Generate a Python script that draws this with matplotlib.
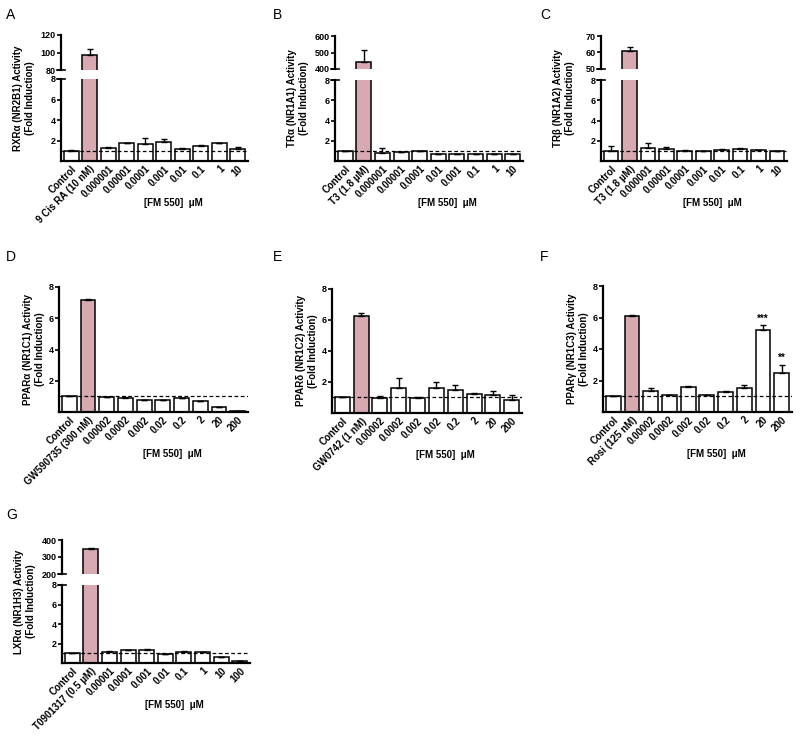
import matplotlib
matplotlib.use("Agg")
import matplotlib.pyplot as plt

plt.rcParams["font.family"] = ["Liberation Sans", "DejaVu Sans"]
plt.rcParams["font.weight"] = "bold"

PINK = "#d9a9b1"
W, H = 800, 739

# ---- data ----
A_labels = ["Control", "9 Cis RA (10 nM)", "0.000001", "0.00001", "0.0001",
            "0.001", "0.01", "0.1", "1", "10"]
A_vals = [1.0, 97, 1.3, 1.75, 1.7, 1.85, 1.2, 1.5, 1.75, 1.2]
A_err = [0.05, 7, 0.05, 0.05, 0.5, 0.25, 0.05, 0.05, 0.03, 0.2]

B_labels = ["Control", "T3 (1.8 \u00b5M)", "0.000001", "0.00001", "0.0001",
            "0.01", "0.001", "0.1", "1", "10"]
B_vals = [1.0, 440, 0.75, 0.9, 0.95, 0.65, 0.65, 0.65, 0.65, 0.65]
B_err = [0, 75, 0.5, 0, 0.05, 0.03, 0.05, 0.03, 0.03, 0.03]

C_labels = ["Control", "T3 (1.8 \u00b5M)", "0.000001", "0.00001", "0.0001",
            "0.001", "0.01", "0.1", "1", "10"]
C_vals = [1.0, 61, 1.3, 1.2, 1.0, 0.95, 1.1, 1.2, 1.05, 0.95]
C_err = [0.45, 2.5, 0.45, 0.15, 0.05, 0.03, 0.05, 0.1, 0.05, 0.03]

D_labels = ["Control", "GW590735 (300 nM)", "0.00002", "0.0002", "0.002",
            "0.02", "0.2", "2", "20", "200"]
D_vals = [1.0, 7.15, 0.95, 0.9, 0.8, 0.8, 0.9, 0.7, 0.35, 0.06]
D_err = [0, 0.05, 0.03, 0.03, 0, 0, 0.02, 0.03, 0, 0]

E_labels = ["Control", "GW0742 (1 nM)", "0.00002", "0.0002", "0.002",
            "0.02", "0.2", "2", "20", "200"]
E_vals = [1.0, 6.25, 0.97, 1.62, 0.95, 1.62, 1.48, 1.22, 1.18, 0.82]
E_err = [0, 0.2, 0.15, 0.62, 0.1, 0.35, 0.35, 0.1, 0.25, 0.35]

F_labels = ["Control", "Rosi (125 nM)", "0.00002", "0.0002", "0.002",
            "0.02", "0.2", "2", "20", "200"]
F_vals = [1.0, 6.1, 1.35, 1.05, 1.6, 1.08, 1.28, 1.5, 5.2, 2.5]
F_err = [0, 0.05, 0.15, 0.05, 0.03, 0.03, 0.08, 0.2, 0.3, 0.5]
F_stars = {8: "***", 9: "**"}

G_labels = ["Control", "T0901317 (0.5 \u00b5M)", "0.00001", "0.0001", "0.001",
            "0.01", "0.1", "1", "10", "100"]
G_vals = [1.0, 348, 1.15, 1.3, 1.35, 0.95, 1.15, 1.1, 0.6, 0.2]
G_err = [0, 5, 0.05, 0.05, 0.1, 0, 0.05, 0.05, 0.05, 0.05]

fig = plt.figure(figsize=(W / 100, H / 100), dpi=100)


def box(left, top, right, bottom):
    return [left / W, 1 - bottom / H, (right - left) / W, (bottom - top) / H]


def draw_bars(ax, vals, errs):
    x = list(range(len(vals)))
    colors = ["white"] * len(vals)
    colors[1] = PINK
    ax.bar(x, vals, width=0.8, color=colors, edgecolor="black", linewidth=1.1, zorder=2)
    ax.errorbar(x, vals, yerr=[[0] * len(errs), errs], fmt="none", ecolor="black",
                elinewidth=1.0, capsize=2.5, capthick=1.0, zorder=3)
    ax.set_xlim(-0.55, len(vals) - 0.45)


def style(ax, bottom=True):
    for s in ["top", "right"]:
        ax.spines[s].set_visible(False)
    ax.spines["left"].set_linewidth(1.6)
    ax.spines["bottom"].set_linewidth(1.6)
    if not bottom:
        ax.spines["bottom"].set_visible(False)
    ax.tick_params(axis="y", length=3, width=1.2, labelsize=6.5, pad=1)
    ax.tick_params(axis="x", length=0, labelsize=7, pad=2)
    ax.set_facecolor("none")


def panel(letter, labels, vals, errs, ylabel, xl, xr, top, bottom,
          upper=None, upper_ticks=None, stars=None, letter_xy=(0, 0)):
    ax = fig.add_axes(box(xl, top, xr, bottom))
    draw_bars(ax, vals, errs)
    ax.axhline(1, color="black", lw=0.9, ls=(0, (3, 2)), zorder=4)
    ax.set_ylim(0, 8)
    ax.set_yticks([2, 4, 6, 8])
    style(ax)
    ax.set_xticks(range(len(labels)))
    ax.set_xticklabels(labels, rotation=45, ha="right", rotation_mode="anchor")
    label_top = top
    if upper is not None:
        utop, ubot = upper
        ax2 = fig.add_axes(box(xl, utop, xr, ubot))
        draw_bars(ax2, vals, errs)
        ax2.set_ylim(upper_ticks[0], upper_ticks[-1])
        ax2.set_yticks(upper_ticks)
        ax2.set_xticks([])
        style(ax2, bottom=False)
        label_top = utop
        # break marks
        for a, yy in ((ax2, 0), (ax, 1)):
            a.plot([-0.02, 0.02], [yy, yy], transform=a.transAxes, color="black",
                   lw=1.2, clip_on=False)
    if stars:
        for i, s in stars.items():
            ax.text(i, vals[i] + errs[i] + 0.1, s, ha="center", va="bottom",
                    fontsize=7, fontweight="bold")
    off = 37 if upper is not None else 25
    fig.text((xl - off) / W, 1 - (label_top + bottom) / 2 / H, ylabel,
             rotation=90, ha="center", va="center", fontsize=7,
             fontweight="bold", linespacing=1.2)
    ax.annotate("[FM 550]  \u03bcM", xy=(5.5, 0), xycoords=("data", "axes fraction"),
                xytext=(0, -42), textcoords="offset pixels", ha="center", va="center",
                fontsize=7, fontweight="bold")
    fig.text(letter_xy[0] / W, 1 - letter_xy[1] / H, letter, ha="left", va="top",
             fontsize=10, fontweight="normal")


panel("A", A_labels, A_vals, A_err, "RXR\u03b1 (NR2B1) Activity\n(Fold Induction)",
      61, 248, 79, 161, upper=(35, 70), upper_ticks=[80, 100, 120], letter_xy=(6, 8))
panel("B", B_labels, B_vals, B_err, "TR\u03b1 (NR1A1) Activity\n(Fold Induction)",
      335, 523, 80, 161, upper=(36, 69), upper_ticks=[400, 500, 600], letter_xy=(273, 8))
panel("C", C_labels, C_vals, C_err, "TR\u03b2 (NR1A2) Activity\n(Fold Induction)",
      601, 787, 80, 161, upper=(36, 69), upper_ticks=[50, 60, 70], letter_xy=(540, 8))
panel("D", D_labels, D_vals, D_err, "PPAR\u03b1 (NR1C1) Activity\n(Fold Induction)",
      59, 248, 287, 412, letter_xy=(6, 250))
panel("E", E_labels, E_vals, E_err, "PPAR\u03b4 (NR1C2) Activity\n(Fold Induction)",
      332, 522, 289, 413, letter_xy=(273, 250))
panel("F", F_labels, F_vals, F_err, "PPAR\u03b3 (NR1C3) Activity\n(Fold Induction)",
      603, 792, 286, 412, stars=F_stars, letter_xy=(540, 250))
panel("G", G_labels, G_vals, G_err, "LXR\u03b1 (NR1H3) Activity\n(Fold Induction)",
      62, 250, 585, 663, upper=(540, 574), upper_ticks=[200, 300, 400], letter_xy=(6, 508))

fig.savefig("out.png", dpi=100)
